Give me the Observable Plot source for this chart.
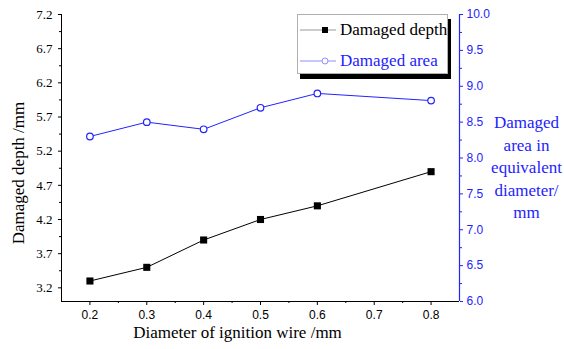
<!DOCTYPE html>
<html>
<head>
<meta charset="utf-8">
<script src="https://cdn.jsdelivr.net/npm/d3@7"></script>
<script src="https://cdn.jsdelivr.net/npm/@observablehq/plot@0.6"></script>
<style>
  body { margin: 0; background: #fff; }
  #wrap { position: relative; width: 564px; height: 349px; }
  #legend { position: absolute; left: 297px; top: 14px; width: 149px; height: 58px;
    border: 1px solid #b0b0b0; background: #fff; box-shadow: 3px 5px 0 #000;
    font-family: "Times New Roman", "Liberation Serif", "DejaVu Serif", serif; font-size: 17px; }
  .row { position: absolute; left: 0; height: 20px; display: flex; align-items: center; }
  .row svg { margin-left: 2px; }
  .row span { margin-left: 4px; white-space: nowrap; }
  .serif text { font-family: "Times New Roman", "Liberation Serif", "DejaVu Serif", serif; }
</style>
</head>
<body>
<div id="wrap"></div>
<script>
const wires = [0.2, 0.3, 0.4, 0.5, 0.6, 0.8];
const depth = [3.3, 3.5, 3.9, 4.2, 4.4, 4.9];
const area = [8.3, 8.5, 8.4, 8.7, 8.9, 8.8];
const xTicks = [0.2, 0.3, 0.4, 0.5, 0.6, 0.7, 0.8];
const xMinor = [0.25, 0.35, 0.45, 0.55, 0.65, 0.75];
const leftTicks = [3.2, 3.7, 4.2, 4.7, 5.2, 5.7, 6.2, 6.7, 7.2];
const leftMinor = [3.45, 3.95, 4.45, 4.95, 5.45, 5.95, 6.45, 6.95];
const rightTicks = [6.0, 6.5, 7.0, 7.5, 8.0, 8.5, 9.0, 9.5, 10.0];
const rightMinor = [6.25, 6.75, 7.25, 7.75, 8.25, 8.75, 9.25, 9.75];

const leftDomain = [3.0, 7.2];
const rightDomain = [6.0, 10.0];
const k = (leftDomain[1] - leftDomain[0]) / (rightDomain[1] - rightDomain[0]);
const toLeft = v => leftDomain[0] + (v - rightDomain[0]) * k;
const toRight = v => rightDomain[0] + (v - leftDomain[0]) / k;

const depthData = wires.map((w, i) => ({w, v: depth[i]}));
const areaData = wires.map((w, i) => ({w, v: toLeft(area[i])}));

const BLUE = "#2323ff";
const SANS = "Arial, 'Liberation Sans', sans-serif";

const chart = Plot.plot({
  width: 564, height: 349,
  marginLeft: 61, marginRight: 105, marginTop: 14, marginBottom: 48,
  x: {domain: [0.15, 0.85]},
  y: {domain: leftDomain},
  style: {background: "#fff"},
  marks: [
    Plot.axisX({ticks: xTicks, tickSize: 4, tickPadding: 5, tickFormat: d => d.toFixed(1), fontFamily: SANS, fontSize: 12, label: null, stroke: "#000"}),
    Plot.axisX({ticks: xMinor, tickSize: 2, tickFormat: () => "", label: null}),
    Plot.axisY({ticks: leftTicks, tickSize: 3, tickPadding: 6, tickFormat: d => d.toFixed(1), className: "serif", fontSize: 13, label: null}),
    Plot.axisY({ticks: leftMinor, tickSize: 2, tickFormat: () => "", label: null}),
    Plot.axisY({anchor: "right", ticks: rightTicks.map(toLeft), tickSize: 3, tickPadding: 4, tickFormat: d => toRight(d).toFixed(1), fontFamily: SANS, fontSize: 12, color: BLUE, label: null}),
    Plot.axisY({anchor: "right", ticks: rightMinor.map(toLeft), tickSize: 2, tickFormat: () => "", color: BLUE, label: null}),
    Plot.ruleY([leftDomain[0]], {stroke: "#000"}),
    Plot.ruleX([0.15], {stroke: "#000"}),
    Plot.ruleX([0.85], {stroke: BLUE, strokeWidth: 1.2}),
    Plot.line(depthData, {x: "w", y: "v", stroke: "#000", strokeWidth: 1}),
    Plot.dot(depthData, {x: "w", y: "v", symbol: "square", r: 4, fill: "#000", stroke: "none"}),
    Plot.line(areaData, {x: "w", y: "v", stroke: BLUE, strokeWidth: 1}),
    Plot.dot(areaData, {x: "w", y: "v", symbol: "circle", r: 3.3, fill: "#fff", stroke: BLUE, strokeWidth: 1.2}),
    Plot.text(["Diameter of ignition wire /mm"], {frameAnchor: "bottom", textAnchor: "middle", dx: -23, dy: 36, className: "serif", fontSize: 17, fill: "#000"}),
    Plot.text(["Damaged depth /mm"], {frameAnchor: "left", textAnchor: "middle", rotate: -90, dx: -43, dy: 15, className: "serif", fontSize: 17, fill: "#000"}),
    Plot.text(["Damaged\narea in\nequivalent\ndiameter/\nmm"], {frameAnchor: "right", textAnchor: "middle", dx: 67, dy: 8, lineHeight: 1.33, className: "serif", fontSize: 17, fill: BLUE})
  ]
});
const wrap = document.getElementById("wrap");
wrap.appendChild(chart);

const legend = document.createElement("div");
legend.id = "legend";
legend.innerHTML = `
  <div class="row" style="top:5px">
    <svg width="36" height="10"><line x1="0" y1="5" x2="36" y2="5" stroke="#999" stroke-width="1.2"/><rect x="22" y="2" width="6" height="6" fill="#000"/></svg>
    <span style="color:#000">Damaged depth</span>
  </div>
  <div class="row" style="top:36px">
    <svg width="36" height="10"><line x1="0" y1="5" x2="36" y2="5" stroke="#8f8fff" stroke-width="1.2"/><circle cx="25" cy="5" r="3" fill="#fff" stroke="#8f8fff" stroke-width="1"/></svg>
    <span style="color:${BLUE}">Damaged area</span>
  </div>`;
wrap.appendChild(legend);
</script>
</body>
</html>
